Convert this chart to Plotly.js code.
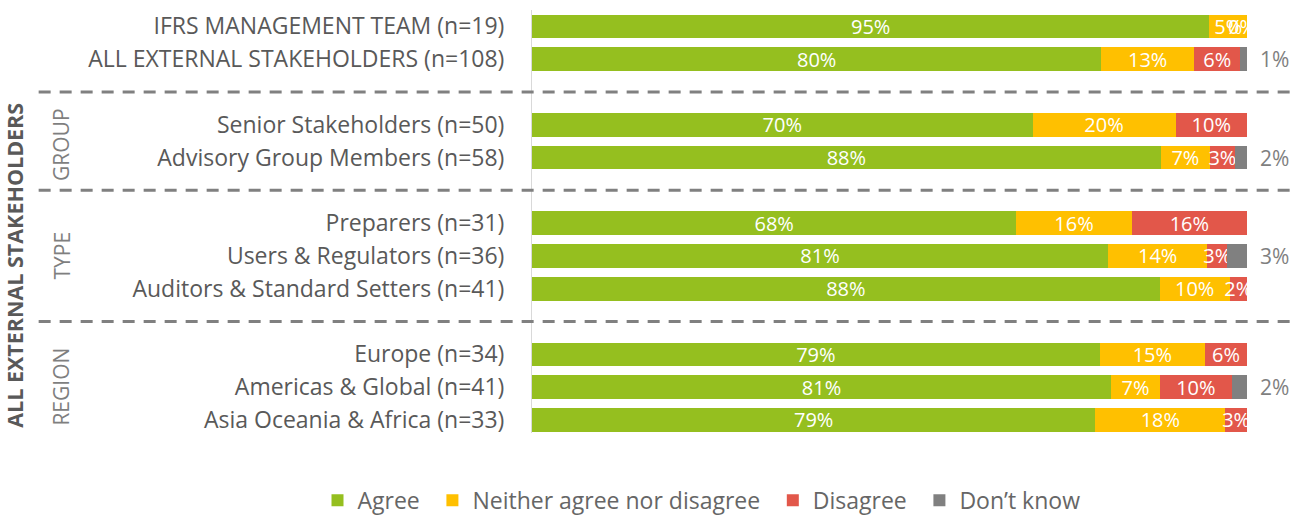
<!DOCTYPE html>
<html><head><meta charset="utf-8">
<script src="https://cdn.plot.ly/plotly-3.0.1.min.js"></script>
<style>html,body{margin:0;padding:0;background:#fff}#chart{width:1306px;height:515px}</style>
</head><body><div id="chart"></div>
<script>
// ---- data ----
const categories = ['IFRS MANAGEMENT TEAM (n=19)', 'ALL EXTERNAL STAKEHOLDERS (n=108)', 'Senior Stakeholders (n=50)', 'Advisory Group Members (n=58)', 'Preparers (n=31)', 'Users & Regulators (n=36)', 'Auditors & Standard Setters (n=41)', 'Europe (n=34)', 'Americas & Global (n=41)', 'Asia Oceania & Africa (n=33)'];
const rowSlots = [0, 1, 3, 4, 6, 7, 8, 10, 11, 12];
const seriesNames = ['Agree', 'Neither agree nor disagree', 'Disagree', 'Don\u2019t know'];
const agree    = [94.74, 79.63, 70.00, 87.93, 67.74, 80.56, 87.80, 79.41, 81.00, 78.79];
const neither  = [5.26, 12.96, 20.00, 6.90, 16.13, 13.89, 9.76, 14.71, 6.80, 18.18];
const disagree = [0, 6.48, 10.00, 3.45, 16.13, 2.78, 2.44, 5.88, 10.10, 3.03];
const dontKnow = [null, 0.93, null, 1.72, null, 2.78, null, null, 2.10, null];
const separatorSlots = [2, 5, 9];
const groupLabels = ['GROUP', 'TYPE', 'REGION'];
const outerLabel = 'ALL EXTERNAL STAKEHOLDERS';

// ---- style ----
const colors = ['#95BF1F', '#FFC000', '#E2574A', '#808080'];
const FONT = 'Open Sans, sans-serif';
const groupLabelSlots = [3.6, 7.0, 11.0];

const series = [agree, neither, disagree, dontKnow];
const pct = v => (v === null ? '' : Math.round(v) + '%');

const traces = series.map((vals, i) => ({
  type: 'bar', orientation: 'h', name: seriesNames[i] + (i < 3 ? '\u2009\u2009' : ''),
  y: rowSlots, x: vals, width: 0.72,
  marker: {color: colors[i], line: {width: 0}},
  text: vals.map(pct),
  textposition: i === 3 ? 'none' : 'inside',
  insidetextanchor: 'middle',
  textangle: 0,
  textfont: {family: FONT, size: 20, color: '#ffffff'},
  hoverinfo: 'name+x'
}));

const annotations = [];
dontKnow.forEach((v, k) => {
  if (v !== null) annotations.push({x: 100, y: rowSlots[k], xref: 'x', yref: 'y', xanchor: 'left', xshift: 11,
    text: pct(v), showarrow: false, font: {family: FONT, size: 21, color: '#7f7f7f'}});
});
disagree.forEach((v, k) => {
  if (v === 0) annotations.push({x: agree[k] + neither[k], y: rowSlots[k], xref: 'x', yref: 'y', xanchor: 'center', xshift: -5,
    text: pct(v), showarrow: false, font: {family: FONT, size: 20, color: '#ffffff'}});
});
groupLabels.forEach((t, k) => annotations.push({xref: 'paper', yref: 'y', x: -0.658, y: groupLabelSlots[k], xanchor: 'center', yanchor: 'middle',
  text: t, textangle: -90, showarrow: false, font: {family: FONT, size: 21, color: '#7f7f7f'}}));
annotations.push({xref: 'paper', yref: 'y', x: -0.723, y: 7.3, xanchor: 'center', yanchor: 'middle',
  text: '<b>' + outerLabel + '</b>', textangle: -90, showarrow: false, font: {family: FONT, size: 21.5, color: '#595959'}});

const shapes = separatorSlots.map(s => ({type: 'line', xref: 'paper', yref: 'y', x0: -0.69, x1: 1.068, y0: s, y1: s,
  line: {color: '#808080', width: 3, dash: '12px,9px'}}));

const layout = {
  width: 1306, height: 515,
  margin: {l: 532, r: 59, t: 10, b: 82, autoexpand: false},
  paper_bgcolor: '#ffffff', plot_bgcolor: '#ffffff',
  barmode: 'stack',
  showlegend: true,
  legend: {orientation: 'h', x: -0.3, xanchor: 'left', y: -0.108, yanchor: 'top', itemwidth: 30,
    font: {family: FONT, size: 23, color: '#666666'}, traceorder: 'normal'},
  xaxis: {range: [0, 100], visible: false, fixedrange: true},
  yaxis: {range: [12.4, -0.5], tickvals: rowSlots, ticktext: categories, showline: true, linecolor: '#d9d9d9', linewidth: 1,
    ticks: '', ticklabelstandoff: 22, showgrid: false, zeroline: false,
    tickfont: {family: FONT, size: 23, color: '#595959'}},
  uniformtext: {mode: 'show', minsize: 20},
  annotations: annotations,
  shapes: shapes,
  font: {family: FONT}
};

Plotly.newPlot('chart', traces, layout, {displayModeBar: false, staticPlot: true});
</script>
</body></html>
